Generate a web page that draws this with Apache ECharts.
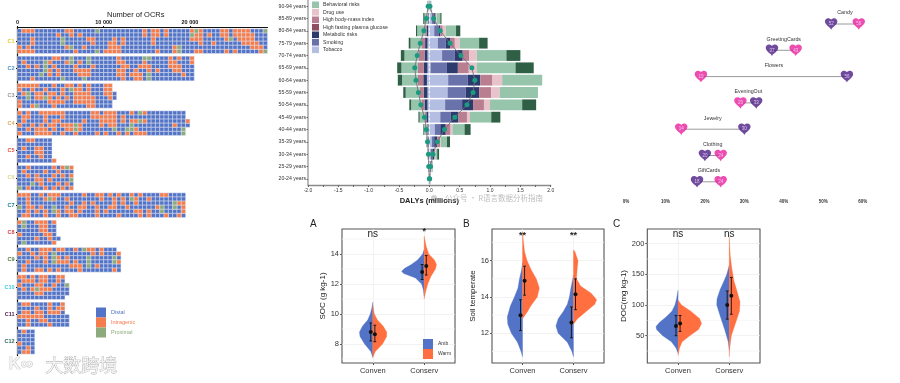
<!DOCTYPE html>
<html><head><meta charset="utf-8">
<style>html,body{margin:0;padding:0;background:#fff}#c{width:900px;height:383px}</style>
<script src="https://cdn.jsdelivr.net/npm/echarts@6/dist/echarts.min.js"></script>
</head><body><div id="c"></div>
<script>
const FONT='"Liberation Sans",Arial,sans-serif';
// ---- Panel 1: OCR waffle (one token = one column of 500 OCRs, top to bottom)
const clusters=['C1','C2','C3','C4','C5','C6','C7','C8','C9','C10','C11','C12'];
const clusterColors=['#e8c832','#4a8fc8','#999999','#dfa860','#e05040','#d8d890','#1a7f9a','#d84040','#4a7a3a','#40c8e0','#5a2050','#2f6a60'];
const c1="DDDDII IDDDDI IDDDII IDIIDI DDDDDD DDDDDD DDDDDD DDDDDD DDDDDD DIDDDD DDPPDD IDDDID IIDDPD DDDDDI DIDDDD DDDDID DDIDDD DDIIDD PDDDDP DDDDDD DDDDDI DDDIII DDIIII DDDDII DDIIDD DDDDDD DDDDDD DDDDDD DDDDDD IIDDDD DDDDDD IIIIDD IIDDDI DDDDDD IIDDDD DDDDDD DDDDII DDDDPP DDDDDD DDDDDD IPIDDD PIIDDI IIIIDI DDDDDD DIDDDD DDDIDD DDDDDD IIDDDD IIIDDI DDPDDD IIDDDI IIIDDD IIIIDD IIIIDD DIIIID DDDIID DDDDII PDDDDP";
const c2="DDDDDD DIDDDD DDIDDD DDDDDI DDIDDD DDDDPD DPPPDD DIDIID IDIDDD IDDIID DDDDDP DIDDDD PPDDDD DDIIDD DIDIID DDDIIP PPDIID DDIDDD DDDDDD DDDDDD DDDDDD DDDDDD DDDDDD IIDIID DIIIII DDIDDD DDDDID DDDIII DDIDII PIIDDD PDIIPP DDDDDD DDDIDD DDDDDD DDDDDD IIIDDD DIIIDD IDIIDD DDDDID DDDDDD IIDDDD";
const c3="IIDDII IDIDDD IDPPDD IIDDDI IDIIDP DDIIDD DIDPDD DDIIID IDIDII DDDIID DIIDID IDDIDD IPDDDD DIIIID IIIIID DDIIID IIIIII DDDIII DDDDDD DDDDDD IIIDDD IIIIDD ..DD..";
const c4="IDDIDI DIIDDD IIDDID DDDIDD DDDDII IDDIII IIIDII IDDIDI IDIIID IDIDDD IIDIDI DDDIID DDDIID DDDPPI DDDIID DDIDDD DDDDDD IIDDDD IIDDDI DIIIDD IIIDDI IIIIDD IIIIPD DDDDDI DIIDDD DDDDPI IDIPPD DDIDII PDPDDI IDIDDI DDDDDD DDDDDD DDDDDD DDDDDD DDDDDD DDDDDD DDDIDD DDDDDD DDDDPP ..ID..";
const c5="DDDDDD DDIDDD IDDDID IDDDDD DDIIDD DDIIID DDDDDD DDDDDD .....I";
const c6="DDDDDP DIDDDD IDIDDI DDDDPD DDIIDD DDDIID DIDDDI DDDIDD IDIDDI DIDDID IDIDDI PDDDID IDIPDI";
const c7="IDDPDD IDDDDI IIIIII DDDIDD DDDDID IDDIDD DIDDII IPDDDD IIDPPD IDDDII DDDDDD DIDIID DDIDII DDDDDI DDDIID IDIIDD DDDDDD DDIDDD IDDIII IIDDDD DDDDID IDDIDD DIIIDD IDDDDI DIIDDD DDDIDD IPDDDD DIIDID IDDDII DDDDDD DIDDII DDDDDD DDDIDD IDDPPD IDDDDI DDDDDD DDPPDD DDIDDI DDIIID";
const c8="IDDIDD PPDDDP DDDDDD DDDDDD IDDDID IIIDDD IIIIDD DDDIID IDDDDI ....D.";
const c9="DIDDDD DDDDII IDDIDD DIDDDD DDIDDI IIDDDI IIIIDD IDDDDI DPPPDD IDIIDI IDDIDD DDIIDD DDDDID IDDIID DDDDII PDDDDD IDPPPD IIDDDD DDDDID IIDDDD DDDDDD DDDDDD DDPPDI .IDIDD";
const c10="IDIDDD IIDIDD DIDDDD IIDIDD DDIPID IIIIID IIDIDD DDDIDD DDIDDD IIDDDD IDDDDD ..PDD.";
const c11="DDDIDD IDIIDD IDIIII DDDIDD DIIIDD DDIIID DDDDID IIIDDI DDIDDD DIIDDD IIDDDD ...DDD";
const c12="DDDIDD IDDDDI DDDDII DDDDDD";
const waffle=[c1,c2,c3,c4,c5,c6,c7,c8,c9,c10,c11,c12];
const cellTypes=[['D','Distal','#5373c6'],['I','Intragenic','#f57c4c'],['P','Proximal','#8cab7c']];
const ocrTicks=[0,10000,20000];
const ocrPerColumn=500, ocrMax=29000;

// ---- Panel 2: DALYs stacked bars (bottom age group first)
const ages=['20-24 years','25-29 years','30-34 years','35-39 years','40-44 years','45-49 years','50-54 years','55-59 years','60-64 years','65-69 years','70-74 years','75-79 years','80-84 years','85-89 years','90-94 years'];
const tobaccoR=[.005,.01,.02,.04,.09,.18,.26,.30,.31,.02,.21,.14,.08,.04,.01];
const smokingR=[.005,.01,.03,.04,.09,.17,.28,.30,.32,.27,.21,.13,.07,.04,.005];
const metabolicR=[.003,.005,.03,.05,.09,.13,.18,.22,.21,.18,.13,.07,.03,.02,.002];
const bmiR=[.002,.005,.01,.05,.08,.14,.18,.20,.20,.18,.11,.08,.04,.01,.002];
const drugR=[.002,.005,.01,.01,.03,.05,.10,.14,.16,.13,.12,.08,.05,.01,.002];
const behavioralR=[.003,.01,.03,.10,.20,.35,.53,.63,.66,.64,.49,.32,.17,.06,.005];
const darkR=[0,.005,.03,.05,.10,.15,.23,0,0,.30,.23,.14,.07,.02,.004];
const tobaccoL=[-.003,-.005,-.008,-.01,-.015,-.02,-.03,-.03,-.04,-.03,-.03,-.03,-.02,-.01,-.003];
const metabolicL=[-.002,-.003,-.006,-.01,-.015,-.03,-.05,-.06,-.06,-.06,-.05,-.04,-.02,-.01,-.003];
const bmiL=[-.002,-.003,-.005,-.008,-.015,-.03,-.05,-.07,-.09,-.10,-.10,-.06,-.03,-.01,-.004];
const behavioralL=[-.002,-.006,-.008,-.017,-.045,-.08,-.17,-.23,-.26,-.27,-.23,-.18,-.13,-.05,-.015];
const darkL=[-.001,-.003,-.003,-.005,-.01,-.02,-.03,-.04,-.07,-.07,-.06,-.03,-.02,-.02,-.005];
const netLeft=[0,-.01,-.015,-.03,-.05,-.08,-.14,-.18,-.22,-.24,-.20,-.15,-.09,-.05,-.02];
const netRight=[.005,.02,.06,.13,.25,.42,.62,.72,.75,.70,.52,.34,.18,.07,.01];
const zeroLine=[0,0,0,0,0,0,0,0,0,0,0,0,0,0,0];
const riskNames=['Behavioral risks','Drug use','High body-mass index','High fasting plasma glucose','Metabolic risks','Smoking','Tobacco'];
const riskColors={'Behavioral risks':'#97c5ac','Drug use':'#e8c3cc','High body-mass index':'#b97f90','High fasting plasma glucose':'#8f4f60','Metabolic risks':'#2b3b6d','Smoking':'#6a72ab','Tobacco':'#b4bee2','Other risks':'#2f5f44'};

// ---- Panel 3: heart dumbbell
const gifts=['Candy','GreetingCards','Flowers','EveningOut','Jewelry','Clothing','GiftCards'];
const purpleVals=[52,37,56,33,30,20,18];
const pinkVals=[59,43,19,29,14,24,24];
const HEART='path://M12 24 L10 20.5 C4 15.5 0 11.5 0 6.5 C0 3 2.7 0 6.2 0 C8.5 0 10.7 1.2 12 3 C13.3 1.2 15.5 0 17.8 0 C21.3 0 24 3 24 6.5 C24 11.5 20 15.5 14 20.5 Z';

// ---- Panels A,B,C: half violins, [y, half width]
const treatNames=['Conven','Conserv'];
const aAmb1=[[7.1,0],[7.5,.04],[8,.16],[8.5,.25],[8.8,.26],[9.2,.2],[9.6,.1],[10,.05],[10.4,.02],[10.8,0]];
const aWarm1=[[7.1,0],[7.5,.05],[8,.19],[8.5,.27],[8.8,.27],[9.2,.2],[9.6,.09],[10,.03],[10.6,0]];
const aAmb2=[[11.2,0],[11.6,.015],[12,.05],[12.4,.17],[12.7,.4],[12.85,.44],[13.05,.38],[13.3,.25],[13.6,.13],[14,.03],[14.3,0]];
const aWarm2=[[11,0],[11.5,.03],[12,.07],[12.5,.13],[13,.22],[13.3,.24],[13.6,.2],[14,.09],[14.5,.04],[15.2,0]];
const bAmb1=[[10.7,0],[11,.03],[11.5,.1],[12,.22],[12.5,.29],[12.9,.3],[13.5,.24],[14,.16],[14.5,.09],[15,.06],[15.5,.02],[15.9,0]];
const bWarm1=[[12.8,0],[13.2,.1],[13.5,.16],[14,.29],[14.5,.33],[15,.27],[15.5,.17],[16,.09],[16.5,.04],[17,.02],[17.6,0]];
const bAmb2=[[10.7,0],[11,.03],[11.5,.12],[12,.3],[12.4,.345],[12.8,.3],[13.2,.2],[13.6,.12],[14,.08],[14.5,.05],[15.2,0]];
const bWarm2=[[12.5,0],[12.8,.08],[13.2,.25],[13.6,.42],[13.85,.455],[14.2,.35],[14.6,.14],[15,.06],[15.4,.07],[16,.09],[16.5,.03],[16.6,0]];
const cAmb1=[[22,0],[30,.04],[40,.13],[50,.3],[60,.42],[65,.43],[72,.36],[80,.24],[90,.12],[100,.06],[110,.03],[124,0]];
const cWarm1=[[18,0],[30,.03],[40,.08],[50,.23],[60,.4],[70,.46],[78,.42],[90,.25],[100,.07],[108,0]];
const cAmb2=[[27,0],[40,.02],[60,.09],[80,.17],[100,.245],[110,.24],[125,.18],[140,.1],[150,.05],[165,0]];
const cWarm2=[[16,0],[30,.01],[50,.04],[70,.12],[90,.2],[105,.21],[120,.16],[140,.09],[160,.05],[180,.02],[211,0]];
// mean, low, high
const aStats=[[8.8,8.2,9.4],[8.65,8.15,9.25],[12.8,12.3,13.3],[13.2,12.6,13.9]];
const bStats=[[13,12.15,13.85],[14.9,14.1,15.7],[12.6,11.75,13.45],[14.15,13.3,15]];
const cStats=[[66,50,83],[70,57,83],[100,77,123],[115,85,145]];
const aSig=['ns','*'], bSig=['**','**'], cSig=['ns','ns'];
const aTicks=[8,10,12,14], bTicks=[12,14,16], cTicks=[50,100,150,200];
const aMinor=[7,9,11,13,15], bMinor=[11,13,15,17], cMinor=[25,75,125,175];
const BLUE='#5373c6', ORANGE='#ff6f3f';

const chart=echarts.init(document.getElementById('c'),null,{renderer:'canvas'});
const grid=[],xAxis=[],yAxis=[],series=[];

// ---------- waffle
grid.push({left:17.5,top:27.5,width:ocrMax/1000*8.62,height:328});
xAxis.push({gridIndex:0,type:'value',position:'top',min:0,max:ocrMax,splitLine:{show:false},
  axisLine:{show:true,lineStyle:{color:'#111',width:1.1}},
  axisTick:{show:true,customValues:ocrTicks,length:1.5,lineStyle:{color:'#111'}},
  axisLabel:{customValues:ocrTicks,fontSize:5.5,fontWeight:'bold',color:'#111',margin:2,fontFamily:FONT,
    formatter:v=>String(v).replace(/(\d)(\d{3})$/,'$1 $2')}});
yAxis.push({gridIndex:0,type:'category',data:clusters,inverse:true,
  axisLine:{show:true,onZero:false,lineStyle:{color:'#111',width:1.2}},
  axisTick:{show:true,alignWithLabel:true,length:1.5,lineStyle:{color:'#111'}},
  axisLabel:{fontSize:5.5,fontWeight:'bold',margin:3,fontFamily:FONT,color:(v,i)=>clusterColors[clusters.indexOf(v)]}});
cellTypes.forEach(([code,name,color])=>{
  const data=[];
  waffle.forEach((str,ci)=>str.split(' ').forEach((col,cx)=>col.split('').forEach((ch,r)=>{
    if(ch===code)data.push([cx*ocrPerColumn,ci,r]);
  })));
  series.push({type:'custom',name,xAxisIndex:0,yAxisIndex:0,data,itemStyle:{color},clip:false,
    encode:{x:0,y:1},
    renderItem(p,api){
      const pt=api.coord([api.value(0),api.value(1)]);
      const band=Math.abs(api.size([0,1])[1]);
      const w=Math.abs(api.size([ocrPerColumn,0])[0]);
      const h=band*0.9/6;
      const r=api.value(2);
      return {type:'rect',shape:{x:pt[0],y:pt[1]-h*3+r*h,width:w,height:h},
        style:{fill:color,stroke:'#e4e8f4',lineWidth:.45}};
    }});
});

// ---------- stacked bars
grid.push({left:308,top:-0.4,width:242.7,height:185.4});
xAxis.push({gridIndex:1,type:'value',min:-2,max:2,interval:.5,splitLine:{show:false},
  axisLine:{show:true,onZero:false,lineStyle:{color:'#8a8a8a',width:1.4}},
  axisTick:{show:true,length:2,lineStyle:{color:'#666'}},
  minorTick:{show:true,splitNumber:2,length:2,lineStyle:{color:'#666'}},
  axisLabel:{fontSize:5,color:'#333',margin:3,fontFamily:FONT,formatter:v=>v.toFixed(1)},
  name:'DALYs (millions)',nameLocation:'middle',nameGap:11.5,
  nameTextStyle:{fontSize:7.5,fontWeight:'bold',color:'#222',fontFamily:FONT}});
yAxis.push({gridIndex:1,type:'category',data:ages,
  axisLine:{show:true,onZero:false,lineStyle:{color:'#aaaaaa',width:1.6}},
  axisTick:{show:true,alignWithLabel:true,length:1.5,lineStyle:{color:'#666'}},
  axisLabel:{fontSize:5.2,color:'#333',margin:2,fontFamily:FONT}});
const bar=(name,data,colorName)=>series.push({type:'bar',name,xAxisIndex:1,yAxisIndex:1,stack:'dalys',data,barWidth:10.8,
  itemStyle:{color:riskColors[colorName||name]},animation:false});
[['Tobacco',tobaccoR],['Smoking',smokingR],['Metabolic risks',metabolicR],['High body-mass index',bmiR],['Drug use',drugR],['Behavioral risks',behavioralR],['Other risks',darkR],
 ['Tobacco',tobaccoL],['Metabolic risks',metabolicL],['High body-mass index',bmiL],['Behavioral risks',behavioralL],['Other risks',darkL]].forEach(d=>bar(d[0],d[1]));
series.push({type:'bar',name:'High fasting plasma glucose',xAxisIndex:1,yAxisIndex:1,stack:'dalys',data:[],itemStyle:{color:riskColors['High fasting plasma glucose']}});
series.push({type:'line',name:'zero',xAxisIndex:1,yAxisIndex:1,data:zeroLine.map((v,i)=>[v,ages[i]]),symbol:'none',z:5,
  lineStyle:{color:'#fff',width:.9,type:[2.5,2]}});
[netLeft,netRight].forEach((arr,k)=>series.push({type:'line',name:k?'net right':'net left',xAxisIndex:1,yAxisIndex:1,data:arr.map((v,i)=>[v,ages[i]]),z:6,
  symbol:'circle',symbolSize:5,lineStyle:{color:'#77707a',width:.9},itemStyle:{color:'#1b9a80'}}));

// ---------- dumbbell
grid.push({left:626,top:10.85,width:236.7,height:184.1});
xAxis.push({gridIndex:2,type:'value',min:0,max:60,interval:10,splitLine:{show:false},axisLine:{show:false},axisTick:{show:false},
  axisLabel:{fontSize:4.5,fontWeight:'bold',color:'#333',margin:4.5,formatter:'{value}%',fontFamily:FONT}});
yAxis.push({gridIndex:2,type:'category',data:gifts,inverse:true,show:false});
series.push({type:'custom',name:'connectors',xAxisIndex:2,yAxisIndex:2,clip:false,z:2,
  data:gifts.map((g,i)=>[purpleVals[i],pinkVals[i],i]),encode:{x:[0,1],y:2},
  renderItem(p,api){
    const a=api.coord([api.value(0),api.value(2)]),b=api.coord([api.value(1),api.value(2)]);
    const mid=(a[0]+b[0])/2;
    return {type:'group',children:[
      {type:'line',shape:{x1:a[0],y1:a[1],x2:b[0],y2:b[1]},style:{stroke:'#9a9a9a',lineWidth:1}},
      {type:'text',style:{x:mid,y:a[1]-11,text:gifts[api.value(2)],fontSize:5.3,fill:'#333',align:'center',verticalAlign:'middle',fontFamily:FONT}}
    ]};
  }});
[[purpleVals,'#4c1d84','Purple'],[pinkVals,'#e81f9e','Pink']].forEach(([vals,color,name])=>series.push({
  type:'scatter',name,xAxisIndex:2,yAxisIndex:2,z:3,data:vals.map((v,i)=>[v,gifts[i]]),
  symbol:HEART,symbolSize:[12.5,11.5],itemStyle:{color},
  label:{show:true,position:'inside',formatter:p=>p.value[0],fontSize:4.5,color:'#f4e6ff',fontFamily:FONT}}));

// ---------- violins
const panels=[
 {left:342,width:113,min:6.73,max:15.67,ticks:aTicks,minor:aMinor,name:'SOC (g kg-1)',gap:14,prof:[aAmb1,aWarm1,aAmb2,aWarm2],stats:aStats,sig:aSig},
 {left:492,width:112,min:10.36,max:17.75,ticks:bTicks,minor:bMinor,name:'Soil temperate',gap:13,prof:[bAmb1,bWarm1,bAmb2,bWarm2],stats:bStats,sig:bSig},
 {left:647.3,width:112.7,min:5.5,max:224,ticks:cTicks,minor:cMinor,name:'DOC(mg kg-1)',gap:18,prof:[cAmb1,cWarm1,cAmb2,cWarm2],stats:cStats,sig:cSig}];
const X_MIN=.4,X_MAX=2.6,DODGE=.04;
panels.forEach((P,k)=>{
  const g=3+k;
  grid.push({left:P.left,top:229,width:P.width,height:134,show:true,borderColor:'#555',borderWidth:1.1,backgroundColor:'#fff'});
  xAxis.push({gridIndex:g,type:'value',min:X_MIN,max:X_MAX,axisLine:{show:false},
    splitLine:{show:true,lineStyle:{color:'#ececec',width:.7}},
    axisTick:{show:true,customValues:[1,2],length:2,lineStyle:{color:'#555'}},
    axisLabel:{customValues:[1,2],fontSize:7.5,color:'#333',margin:3.5,fontFamily:FONT,formatter:v=>treatNames[v-1]}});
  yAxis.push({gridIndex:g,type:'value',min:P.min,max:P.max,axisLine:{show:false},
    splitLine:{show:true,lineStyle:{color:'#ececec',width:.7}},
    axisTick:{show:true,customValues:P.ticks,length:2,lineStyle:{color:'#555'}},
    axisLabel:{customValues:P.ticks,fontSize:7.5,color:'#333',margin:3,fontFamily:FONT},
    name:P.name,nameLocation:'middle',nameGap:P.gap,nameTextStyle:{fontSize:8,color:'#222',fontFamily:FONT}});
  series.push({type:'custom',name:'minor'+k,xAxisIndex:g,yAxisIndex:g,data:P.minor.map(v=>[v]),encode:{y:0},z:1,silent:true,
    renderItem(p,api){const a=api.coord([X_MIN,api.value(0)]),b=api.coord([X_MAX,api.value(0)]);
      return {type:'line',shape:{x1:a[0],y1:a[1],x2:b[0],y2:b[1]},style:{stroke:'#f3f3f3',lineWidth:.7}};}});
  [['Amb',BLUE,-1,0],['Warm',ORANGE,1,1]].forEach(([name,color,dir,off])=>{
    series.push({type:'custom',name,xAxisIndex:g,yAxisIndex:g,z:3,itemStyle:{color},
      data:[[1,off],[2,off+2]],encode:{x:0},
      renderItem(p,api){
        const xc=api.value(0),prof=P.prof[api.value(1)];
        const pts=prof.map(([y,w])=>api.coord([xc+dir*w,y]));
        return {type:'polygon',shape:{points:pts},style:{fill:color,stroke:color,lineWidth:.3,lineJoin:'round'}};
      }});
  });
  series.push({type:'custom',name:'stats'+k,xAxisIndex:g,yAxisIndex:g,z:5,
    data:P.stats.map((s,i)=>[(i<2?1:2)+(i%2?DODGE:-DODGE),s[0],s[1],s[2]]),encode:{x:0,y:1},
    renderItem(p,api){
      const x=api.value(0),m=api.coord([x,api.value(1)]),lo=api.coord([x,api.value(2)]),hi=api.coord([x,api.value(3)]);
      const st={stroke:'#111',lineWidth:.9};
      return {type:'group',children:[
        {type:'line',shape:{x1:lo[0],y1:lo[1],x2:hi[0],y2:hi[1]},style:st},
        {type:'line',shape:{x1:lo[0]-1.4,y1:lo[1],x2:lo[0]+1.4,y2:lo[1]},style:st},
        {type:'line',shape:{x1:hi[0]-1.4,y1:hi[1],x2:hi[0]+1.4,y2:hi[1]},style:st},
        {type:'circle',shape:{cx:m[0],cy:m[1],r:2},style:{fill:'#111'}}
      ]};
    }});
  series.push({type:'custom',name:'sig'+k,xAxisIndex:g,yAxisIndex:g,z:6,
    data:[[1,0],[2,1]],encode:{x:0},
    renderItem(p,api){
      const c=api.coord([api.value(0),P.max]),t=P.sig[api.value(1)];
      return {type:'text',style:{x:c[0],y:c[1]+(t==='ns'?5:(k===1?7:3)),text:t,fontSize:t==='ns'?10:9,fontWeight:t==='ns'?'normal':'bold',fill:'#222',align:'center',verticalAlign:'middle',fontFamily:FONT}};
    }});
});

const option={animation:false,textStyle:{fontFamily:FONT},grid,xAxis,yAxis,series,
 legend:[
  {left:96,top:307.5,orient:'vertical',itemWidth:10,itemHeight:10,itemGap:0,icon:'rect',selectedMode:false,padding:0,
   data:cellTypes.map(c=>({name:c[1],textStyle:{color:c[2]}})),textStyle:{fontSize:5.5,fontFamily:FONT}},
  {left:312,top:1.5,orient:'vertical',itemWidth:7,itemHeight:6.6,itemGap:.9,icon:'rect',selectedMode:false,padding:0,
   data:riskNames,formatter:n=>n,textStyle:{fontSize:5.2,color:'#333',padding:[0,0,0,-1],fontFamily:FONT}},
  {left:423,top:339,orient:'vertical',itemWidth:10,itemHeight:10,itemGap:0,icon:'rect',selectedMode:false,padding:0,
   data:['Amb','Warm'],textStyle:{fontSize:5,color:'#333',fontFamily:FONT}}
 ],
 graphic:[
  {type:'text',left:107,top:11,style:{text:'Number of OCRs',fontSize:7.5,fill:'#222',fontFamily:FONT}},
  {type:'text',left:310,top:219,style:{text:'A',fontSize:10,fill:'#222',fontFamily:FONT}},
  {type:'text',left:463,top:219,style:{text:'B',fontSize:10,fill:'#222',fontFamily:FONT}},
  {type:'text',left:613,top:219,style:{text:'C',fontSize:10,fill:'#222',fontFamily:FONT}},
  {type:'circle',shape:{cx:434,cy:198,r:3},style:{fill:'#d0d0d0'}},
  {type:'text',left:445,top:194,z:20,style:{text:'公众号 · R语言数据分析指南',fontSize:7.5,fill:'#bdbdbd',fontFamily:'"Noto Sans CJK SC"'}},
  {type:'text',left:8,top:355,z:20,style:{text:'K∞',fontSize:17,fontWeight:'bold',fill:'#f4f4f4',stroke:'#b0b0b0',lineWidth:.7,fontFamily:FONT}},
  {type:'text',left:45,top:356,z:20,style:{text:'大数跨境',fontSize:18,fill:'#f2f2f2',stroke:'#a8a8a8',lineWidth:.7,fontFamily:'"Noto Sans CJK SC"'}}
 ]};
chart.setOption(option);
</script></body></html>
